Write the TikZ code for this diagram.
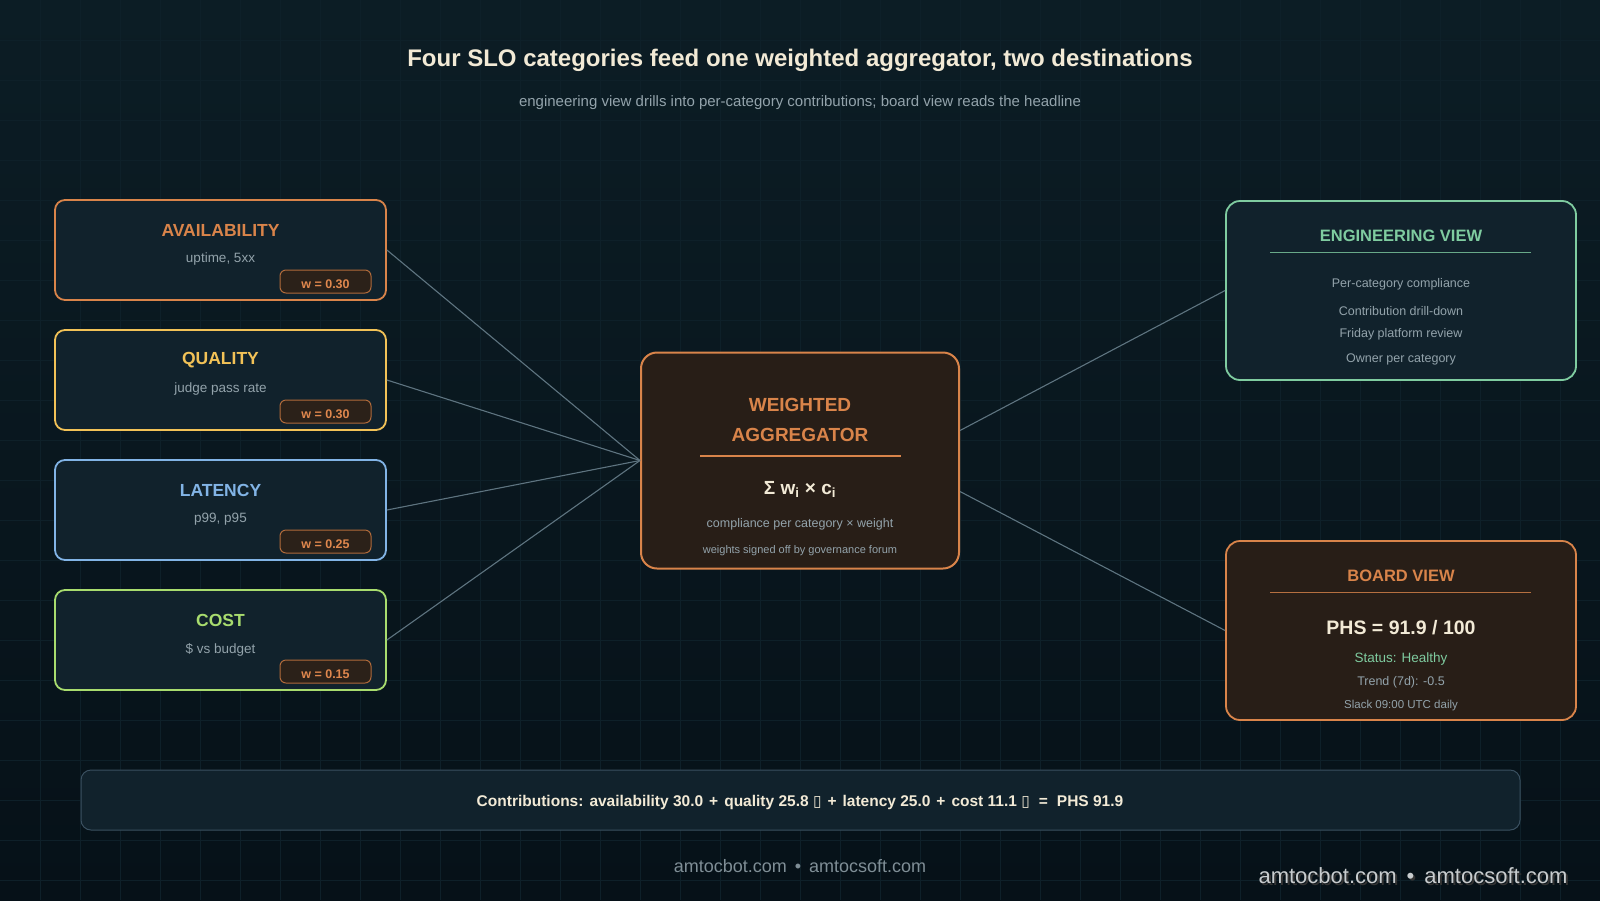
\documentclass[tikz,border=0pt]{standalone}
\usepackage{fontspec}
\setmainfont{Liberation Sans}
\newfontfamily\dejavu{DejaVu Sans}
\usetikzlibrary{calc}
\definecolor{bgtop}{HTML}{0C1D25}
\definecolor{bgbot}{HTML}{061118}
\definecolor{gridc}{HTML}{0E2029}
\definecolor{boxfill}{HTML}{11222C}
\definecolor{brownfill}{HTML}{281E17}
\definecolor{corange}{HTML}{D9844A}
\definecolor{cyellow}{HTML}{F2C257}
\definecolor{cblue}{HTML}{82B4E6}
\definecolor{cgreen}{HTML}{A8DC6E}
\definecolor{cmint}{HTML}{7FCCA0}
\definecolor{subgray}{HTML}{93A3AB}
\definecolor{badgefill}{HTML}{2B2119}
\definecolor{badgeline}{HTML}{B06A3A}
\definecolor{badgetext}{HTML}{E0884E}
\definecolor{cream}{HTML}{F2EAD6}
\definecolor{linkc}{HTML}{5E7480}
\definecolor{barline}{HTML}{3A5060}
\definecolor{footc}{HTML}{7F8E96}
\definecolor{footlight}{HTML}{C8CCCE}
\newcommand\fsz[1]{\fontsize{#1}{#1}\selectfont}
\tikzset{
  gridline/.style={draw=gridc, line width=0.7pt},
  catbox/.style={draw=#1, line width=1.8pt, fill=boxfill, rounded corners=10pt,
    minimum width=331pt, minimum height=100pt, inner sep=0pt},
  cattitle/.style={text=#1, font=\fsz{17.5}\bfseries, inner sep=0pt, anchor=center},
  catsub/.style={text=subgray, font=\fsz{13.5}, inner sep=0pt},
  badge/.style={draw=badgeline, line width=1pt, fill=badgefill, rounded corners=6pt,
    minimum width=91pt, minimum height=23pt, inner sep=0pt, text=badgetext,
    text height=14pt, text depth=0pt, font=\fsz{12.5}\bfseries},
  link/.style={draw=linkc, line width=1.1pt},
  viewbox/.style={draw=#1, line width=1.8pt, rounded corners=14pt,
    minimum width=350pt, minimum height=179pt, inner sep=0pt},
  viewtitle/.style={text=#1, font=\fsz{16.5}\bfseries, inner sep=0pt},
  item/.style={text=subgray, font=\fsz{12.5}, inner sep=0pt},
  txt/.style={inner sep=0pt},
}
\begin{document}
\begin{tikzpicture}[x=1pt,y=-1pt]
\useasboundingbox (0,0) rectangle (1600,900);
\shade[top color=bgtop, bottom color=bgbot] (0,0) rectangle (1600,900);
\foreach \i in {40,80,...,1560} \draw[gridline] (\i,0) -- (\i,900);
\foreach \j in {40,80,...,880} \draw[gridline] (0,\j) -- (1600,\j);

% title
\node[txt, text=cream, font=\fsz{24}\bfseries] (title) at (800,60) {Four SLO categories feed one weighted aggregator, two destinations};
\node[txt, text=subgray, font=\fsz{15}] (subtitle) at (800,103) {engineering view drills into per-category contributions; board view reads the headline};

% left category boxes
\node[catbox=corange] (avail) at (220.5,250) {};
\node[cattitle=corange] (availT) at (220.5,230.5) {AVAILABILITY};
\node[catsub] (availS) at (220.5,259.5) {uptime, 5xx};
\node[badge] (availW) at (325.5,281.5) {w = 0.30};

\node[catbox=cyellow] (qual) at (220.5,380) {};
\node[cattitle=cyellow] (qualT) at (220.5,360.5) {QUALITY};
\node[catsub] (qualS) at (220.5,389.5) {judge pass rate};
\node[badge] (qualW) at (325.5,411.5) {w = 0.30};

\node[catbox=cblue] (lat) at (220.5,510) {};
\node[cattitle=cblue] (latT) at (220.5,490.5) {LATENCY};
\node[catsub] (latS) at (220.5,519.5) {p99, p95};
\node[badge] (latW) at (325.5,541.5) {w = 0.25};

\node[catbox=cgreen] (cost) at (220.5,640) {};
\node[cattitle=cgreen] (costT) at (220.5,620.5) {COST};
\node[catsub] (costS) at (220.5,649.5) {\$ vs budget};
\node[badge] (costW) at (325.5,671.5) {w = 0.15};

% aggregator
\node[draw=corange, line width=2pt, fill=brownfill, rounded corners=16pt,
  minimum width=318pt, minimum height=216pt, inner sep=0pt] (agg) at (800,460.5) {};
\node[txt, text=corange, font=\fsz{19}\bfseries] (aggT1) at (800,405) {WEIGHTED};
\node[txt, text=corange, font=\fsz{19}\bfseries] (aggT2) at (800,435) {AGGREGATOR};
\coordinate (aggL1) at (700,456);
\coordinate (aggL2) at (901,456);
\draw[draw=corange, line width=1.2pt] (aggL1) -- (aggL2);
\node[txt, text=cream, font=\fsz{19}\bfseries] (aggF) at (800,489.5) {Σ w\textsubscript{i} × c\textsubscript{i}};
\node[txt, text=subgray, font=\fsz{12.5}] (aggS1) at (800,524) {compliance per category × weight};
\node[txt, text=subgray, font=\fsz{11}] (aggS2) at (800,551) {weights signed off by governance forum};

% engineering view
\node[viewbox=cmint, fill=boxfill] (eng) at (1401,290.5) {};
\node[viewtitle=cmint] (engT) at (1401,235.5) {ENGINEERING VIEW};
\coordinate (engL1) at (1270,252);
\coordinate (engL2) at (1531,252);
\draw[draw=cmint!80!boxfill, line width=1pt] (engL1) -- (engL2);
\node[item] (eng1) at (1401,284) {Per-category compliance};
\node[item] (eng2) at (1401,311) {Contribution drill-down};
\node[item] (eng3) at (1401,334.5) {Friday platform review};
\node[item] (eng4) at (1401,359.5) {Owner per category};

% board view
\node[viewbox=corange, fill=brownfill] (board) at (1401,630.5) {};
\node[viewtitle=corange] (boardT) at (1401,575.5) {BOARD VIEW};
\coordinate (boardL1) at (1270,592);
\coordinate (boardL2) at (1531,592);
\draw[draw=corange!80!brownfill, line width=1pt] (boardL1) -- (boardL2);
\node[txt, text=cream, font=\fsz{19.5}\bfseries] (phs) at (1401,628) {PHS = 91.9 / 100};
\node[txt, text=cmint, font=\fsz{13.5}] (status) at (1401,658.5) {Status: Healthy};
\node[item] (trend) at (1401,682.5) {Trend (7d): -0.5};
\node[txt, text=subgray, font=\fsz{11.5}] (slack) at (1401,705.5) {Slack 09:00 UTC daily};

% connectors
\draw[link] (avail.east) -- (agg.west);
\draw[link] (qual.east) -- (agg.west);
\draw[link] (lat.east) -- (agg.west);
\draw[link] (cost.east) -- (agg.west);
\draw[link] ($(agg.east)+(0,-30)$) -- (eng.west);
\draw[link] ($(agg.east)+(0,31)$) -- (board.west);

% contributions bar
\node[draw=barline, line width=1pt, fill=boxfill, rounded corners=10pt,
  minimum width=1439pt, minimum height=60pt, inner sep=0pt] (bar) at (800.5,800) {};
\node[txt, text=cream, font=\fsz{15.5}\bfseries] (barT) at (800,802.5)
 {Contributions:\hspace{6pt}availability 30.0\hspace{6pt}+\hspace{6pt}quality 25.8 {\dejavu\mdseries▯}\hspace{6pt}+\hspace{6pt}latency 25.0\hspace{6pt}+\hspace{6pt}cost 11.1 {\dejavu\mdseries▯}\hspace{9pt}=\hspace{9pt}PHS 91.9};

% footers
\node[txt, text=footc, font=\fsz{18}] (foot) at (800,866) {amtocbot.com\hspace{8pt}•\hspace{8pt}amtocsoft.com};
\node[txt, text=black!80, font=\fsz{22}] (footS) at (1415,878) {amtocbot.com\hspace{10pt}•\hspace{10pt}amtocsoft.com};
\node[txt, text=footlight, font=\fsz{22}] (foot2) at (1413,876) {amtocbot.com\hspace{10pt}•\hspace{10pt}amtocsoft.com};
\end{tikzpicture}
\end{document}
